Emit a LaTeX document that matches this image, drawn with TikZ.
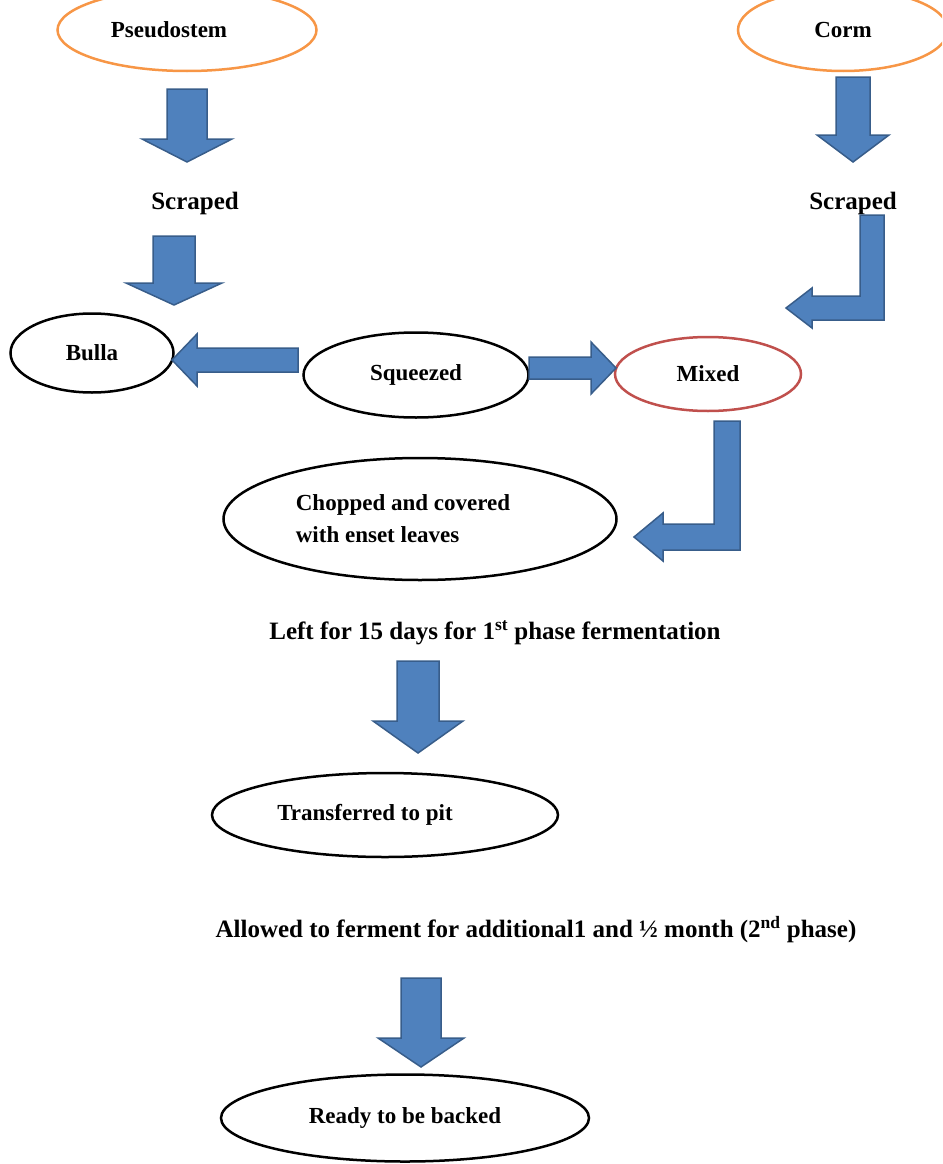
\documentclass[tikz,border=0pt]{standalone}
\usepackage{fontspec}
\setmainfont{Liberation Serif}
\usetikzlibrary{shapes.geometric,calc}
\definecolor{arrowfill}{HTML}{4F81BD}
\definecolor{arrowline}{HTML}{385D8A}
\definecolor{orangeline}{HTML}{F79646}
\definecolor{redline}{HTML}{C0504D}
\tikzset{stage/.style={ellipse, draw, line width=2.5pt, inner sep=0pt},
step text/.style={font=\bfseries\fontsize{25}{30}\selectfont},
blk shaft/.store in=\blkshaft, blk head/.store in=\blkhead, blk len/.store in=\blklen,
blk shaft=20pt, blk head=45pt, blk len=25pt,
block/.style={draw=arrowline, fill=arrowfill, line width=1.5pt,
to path={ let \p1=(\tikztostart),\p2=(\tikztotarget),
\n1={atan2(\y2-\y1,\x2-\x1)} in
($(\p1)+({\n1+90}:\blkshaft)$) -- ($(\p2)+({\n1+180}:\blklen)+({\n1+90}:\blkshaft)$) --
($(\p2)+({\n1+180}:\blklen)+({\n1+90}:\blkhead)$) -- (\p2) --
($(\p2)+({\n1+180}:\blklen)+({\n1-90}:\blkhead)$) --
($(\p2)+({\n1+180}:\blklen)+({\n1-90}:\blkshaft)$) -- ($(\p1)+({\n1-90}:\blkshaft)$) -- cycle}},
bent/.style={draw=arrowline, fill=arrowfill, line width=1.5pt,
to path={ let \p1=(\tikztostart),\p2=(\tikztotarget) in
(\x1-\blkshaft,\y1) -- (\x1+\blkshaft,\y1) -- (\x1+\blkshaft,\y2-\blkshaft) --
(\x2+\blklen,\y2-\blkshaft) -- (\x2+\blklen,\y2-\blkhead) -- (\p2) --
(\x2+\blklen,\y2+\blkhead) -- (\x2+\blklen,\y2+\blkshaft) -- (\x1-\blkshaft,\y2+\blkshaft) -- cycle}}}
\begin{document}
\begin{tikzpicture}[x=1pt,y=-1pt,font=\bfseries\fontsize{23}{32}\selectfont]
        \useasboundingbox (0,0) rectangle (942,1164);
        \clip (0,0) rectangle (942,1164);

        \node[stage, draw=orangeline, minimum width=259pt, minimum height=82pt] (pseudo) at (187,30) {Pseudostem\hspace*{36pt}};
        \node[stage, draw=orangeline, minimum width=210pt, minimum height=82pt] (corm) at (843,30) {Corm};
        \node[step text] (scrL) at (195,203) {Scraped};
        \node[step text] (scrR) at (853,203) {Scraped};
        \node[stage, minimum width=163pt, minimum height=79pt] (bulla) at (92,353) {Bulla};
        \node[stage, minimum width=225pt, minimum height=85pt] (squeezed) at (416,375) {Squeezed};
        \node[stage, draw=redline, minimum width=186pt, minimum height=74pt] (mixed) at (708,374) {Mixed};
        \node[stage, minimum width=393pt, minimum height=122pt, align=left] (chopped) at (420,519) {Chopped and covered\hspace*{34pt}\\with enset leaves};
        \node[step text] (left15) at (495,633) {Left for 15 days for 1\textsuperscript{st} phase fermentation};
        \node[stage, minimum width=346pt, minimum height=84pt] (transf) at (385,815) {Transferred to pit\hspace*{40pt}};
        \node[step text] (allowed) at (536,930) {Allowed to ferment for additional1 and ½ month (2\textsuperscript{nd} phase)};
        \node[stage, minimum width=368pt, minimum height=87pt] (ready) at (405,1118) {Ready to be backed};

        \coordinate (a1) at (187,89);   \coordinate (a1t) at (187,162);
        \coordinate (a2) at (174,236);  \coordinate (a2t) at (174,305);
        \coordinate (a3) at (853,77);   \coordinate (a3t) at (853,162);
        \coordinate (a4) at (298,360);  \coordinate (a4t) at (172,360);
        \coordinate (a5) at (529,368);  \coordinate (a5t) at (616,368);
        \coordinate (b1) at (872,215);  \coordinate (b1t) at (786,308);
        \coordinate (b2) at (727,421);  \coordinate (b2t) at (634,537);
        \coordinate (a6) at (418,661);  \coordinate (a6t) at (418,753);
        \coordinate (a7) at (421,978);  \coordinate (a7t) at (421,1067);

        \path (a1) edge[block, blk shaft=20pt, blk head=45pt, blk len=23pt] (a1t)
              (a2) edge[block, blk shaft=21pt, blk head=48pt, blk len=22pt] (a2t)
              (a3) edge[block, blk shaft=17pt, blk head=36pt, blk len=27pt] (a3t)
              (a4) edge[block, blk shaft=12pt, blk head=26pt, blk len=25pt] (a4t)
              (a5) edge[block, blk shaft=11pt, blk head=26pt, blk len=25pt] (a5t)
              (b1) edge[bent, blk shaft=12pt, blk head=20pt, blk len=26pt] (b1t)
              (b2) edge[bent, blk shaft=13pt, blk head=24pt, blk len=29pt] (b2t)
              (a6) edge[block, blk shaft=21pt, blk head=45pt, blk len=32pt] (a6t)
              (a7) edge[block, blk shaft=20pt, blk head=43pt, blk len=29pt] (a7t);
\end{tikzpicture}
\end{document}
